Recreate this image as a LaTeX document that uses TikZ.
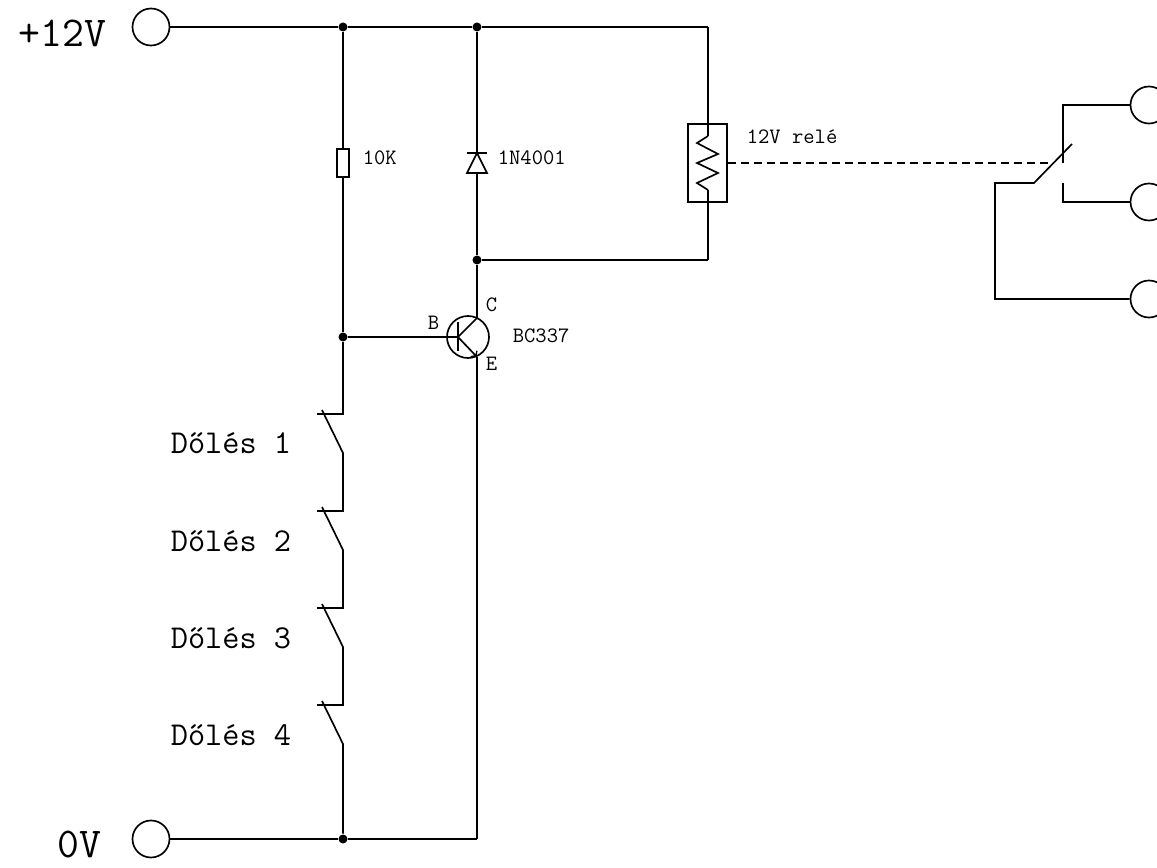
\documentclass[tikz,border=0pt]{standalone}
\usepackage{tikz}
\usepackage{fontspec}
\setmainfont{Latin Modern Mono}
\tikzset{
  wire/.style={line width=.95pt},
  dot/.style={circle,fill=black,inner sep=0pt,minimum size=.18cm},
  term/.style={circle,draw,line width=.95pt,inner sep=0pt,minimum size=.74cm},
  small/.style={anchor=base west,inner sep=0pt,font=\fontsize{12.5pt}{14pt}\selectfont},
  mid/.style={anchor=base west,inner sep=0pt,font=\fontsize{19pt}{21pt}\selectfont},
  big/.style={anchor=base west,inner sep=0pt,font=\fontsize{24.2pt}{26pt}\selectfont}
}
\begin{document}
\begin{tikzpicture}[x=.02cm,y=-.02cm,wire]
\useasboundingbox (0,0) rectangle (1157,868);
% terminals
\node[term] at (151,27) (TermPlus) {};
\node[term] at (151,839) (TermZero) {};
\node[term] at (1149,105) (TermNC) {};
\node[term] at (1149,202) (TermNO) {};
\node[term] at (1149,299) (TermCom) {};
% junctions
\node[dot] at (343,27) (JctTopA) {};
\node[dot] at (477,27) (JctTopB) {};
\node[dot] at (477,260) (JctColl) {};
\node[dot] at (343,337) (JctBase) {};
\node[dot] at (343,839) (JctBotA) {};
\coordinate (CornerBot) at (477,839);
\coordinate (CornerTop) at (708,27);
% rails
\draw (TermPlus) -- (JctTopA);
\draw (JctTopA) -- (JctTopB);
\draw (JctTopB) -- (CornerTop);
\draw (TermZero) -- (JctBotA);
\draw (JctBotA) -- (CornerBot);
% 10K
\node[draw,wire,fill=white,minimum width=.24cm,minimum height=.56cm,inner sep=0pt] at (343,163) (ResA) {};
\draw (JctTopA) -- (ResA);
\draw (ResA) -- (JctBase);
\node[small] at (362,165) (LabRes) {10K};
% 1N4001
\coordinate (DiodeTop) at (477,153);
\coordinate (DiodeBot) at (477,173);
\coordinate (DiodeTL) at (467,153);
\coordinate (DiodeTR) at (487,153);
\coordinate (DiodeBL) at (467,173);
\coordinate (DiodeBR) at (487,173);
\draw (JctTopB) -- (DiodeTop);
\draw (DiodeBot) -- (JctColl);
\draw (DiodeTL) -- (DiodeTR);
\draw (DiodeTop) -- (DiodeBR) -- (DiodeBL) -- cycle;
\node[small] at (497,165) (LabDiode) {1N4001};
% relay coil
\node[draw,wire,minimum width=.78cm,minimum height=1.56cm,inner sep=0pt] at (707.5,163) (Relay) {};
\coordinate (CoilTop) at (708,136);
\coordinate (CoilBot) at (708,190);
\coordinate (CornerColl) at (708,260);
\draw (CornerTop) -- (CoilTop);
\draw (CoilTop) -- (697,143) -- (718,154) -- (697,163) -- (718,173) -- (697,183) -- (CoilBot);
\draw (CoilBot) -- (CornerColl);
\draw (CornerColl) -- (JctColl);
\node[small] at (746,144) (LabRelay) {12V relé};
% relay contacts
\coordinate (LinkEnd) at (1053,163);
\draw[dash pattern=on 4.5pt off 2.9pt] (Relay.east) -- (LinkEnd);
\coordinate (BladeA) at (1034,183);
\coordinate (BladeB) at (1072,144);
\coordinate (ComA) at (995,183);
\coordinate (ComB) at (995,299);
\coordinate (NcA) at (1063,105);
\coordinate (NcB) at (1063,163);
\coordinate (NoA) at (1063,183);
\coordinate (NoB) at (1063,202);
\draw (BladeB) -- (BladeA) -- (ComA) -- (ComB) -- (TermCom);
\draw (NcB) -- (NcA) -- (TermNC);
\draw (NoA) -- (NoB) -- (TermNO);
% BC337
\node[circle,draw,wire,minimum size=.84cm,inner sep=0pt] at (468,337) (Trans) {};
\coordinate (BasePt) at (458,337);
\coordinate (BaseTop) at (458,322);
\coordinate (BaseBot) at (458,351);
\coordinate (CollPt) at (477,318);
\coordinate (EmitPt) at (477,357);
\draw (JctBase) -- (BasePt);
\draw (BaseTop) -- (BaseBot);
\draw (BasePt) -- (CollPt);
\draw (CollPt) -- (JctColl);
\draw[->] (BasePt) -- (EmitPt);
\draw (EmitPt) -- (CornerBot);
\node[small] at (427,330) (LabB) {B};
\node[small] at (485,312) (LabC) {C};
\node[small] at (485,371) (LabE) {E};
\node[small] at (512,343) (LabQ) {BC337};
% tilt switches
\coordinate (SwA1) at (343,414);
\coordinate (SwA2) at (317,414);
\coordinate (SwA3) at (322,410);
\coordinate (SwA4) at (343,453);
\coordinate (SwB1) at (343,511);
\coordinate (SwB2) at (317,511);
\coordinate (SwB3) at (322,507);
\coordinate (SwB4) at (343,550);
\coordinate (SwC1) at (343,608);
\coordinate (SwC2) at (317,608);
\coordinate (SwC3) at (322,604);
\coordinate (SwC4) at (343,647);
\coordinate (SwD1) at (343,705);
\coordinate (SwD2) at (317,705);
\coordinate (SwD3) at (322,701);
\coordinate (SwD4) at (343,744);
\draw (JctBase) -- (SwA1) -- (SwA2);
\draw (SwA3) -- (SwA4) -- (SwB1) -- (SwB2);
\draw (SwB3) -- (SwB4) -- (SwC1) -- (SwC2);
\draw (SwC3) -- (SwC4) -- (SwD1) -- (SwD2);
\draw (SwD3) -- (SwD4) -- (JctBotA);
\node[mid] at (170,454) (LabSwA) {Dőlés 1};
\node[mid] at (170,551) (LabSwB) {Dőlés 2};
\node[mid] at (170,648) (LabSwC) {Dőlés 3};
\node[mid] at (170,745) (LabSwD) {Dőlés 4};
\node[big] at (18,47) (LabPlus) {+12V};
\node[big] at (57,857) (LabZero) {0V};
\end{tikzpicture}
\end{document}
